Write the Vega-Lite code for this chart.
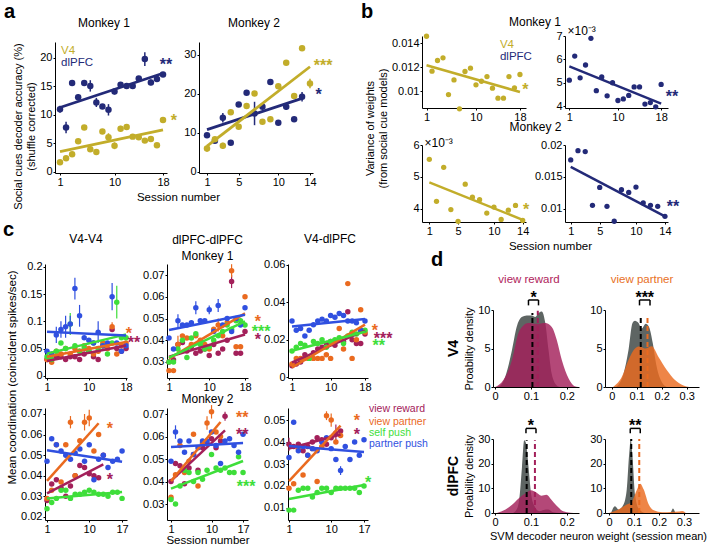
{
"$schema": "https://vega.github.io/schema/vega-lite/v6.json",
"background": "white",
"autosize": {"type": "none"},
"padding": {"left": 0, "top": 0, "right": 708, "bottom": 545},
"config": {
 "font": "Liberation Sans",
 "view": {"stroke": null},
 "axis": {"grid": false, "domainColor": "#000", "tickColor": "#000", "tickSize": 2, "labelColor": "#000", "labelFontSize": 11, "labelPadding": 1, "labelFlush": false, "titleColor": "#000", "titleFontSize": 11, "titleFontWeight": "normal", "titlePadding": 3, "format": ".4~f"},
 "title": {"fontSize": 12, "fontWeight": "normal", "color": "#000", "subtitleFontSize": 12, "subtitleColor": "#000", "subtitlePadding": 4}
},
"datasets": {
 "a1": [
  {"s":1,"v":11.0,"k":"dlPFC","err":0.6},{"s":2,"v":7.8,"k":"dlPFC","err":1.0},{"s":3,"v":15.6,"k":"dlPFC"},{"s":4,"v":13.1,"k":"dlPFC","err":0.5},{"s":5,"v":15.6,"k":"dlPFC"},{"s":6,"v":15.1,"k":"dlPFC","err":1.0},{"s":7,"v":12.2,"k":"dlPFC","err":0.8},{"s":8,"v":11.5,"k":"dlPFC"},{"s":9,"v":10.9,"k":"dlPFC","err":1.0},{"s":10,"v":14.1,"k":"dlPFC","err":0.5},{"s":11,"v":15.3,"k":"dlPFC"},{"s":12,"v":15.1,"k":"dlPFC"},{"s":13,"v":15.1,"k":"dlPFC","err":0.5},{"s":14,"v":16.4,"k":"dlPFC"},{"s":15,"v":19.8,"k":"dlPFC","err":1.2},{"s":16,"v":15.7,"k":"dlPFC","err":0.5},{"s":17,"v":16.3,"k":"dlPFC"},{"s":18,"v":17.1,"k":"dlPFC"},
  {"s":1,"v":1.7,"k":"V4"},{"s":2,"v":2.4,"k":"V4"},{"s":3,"v":3.1,"k":"V4"},{"s":4,"v":5.4,"k":"V4"},{"s":5,"v":7.8,"k":"V4"},{"s":6,"v":4.0,"k":"V4"},{"s":7,"v":3.5,"k":"V4"},{"s":8,"v":7.1,"k":"V4"},{"s":9,"v":6.1,"k":"V4","err":0.7},{"s":10,"v":4.6,"k":"V4","err":0.6},{"s":11,"v":7.6,"k":"V4","err":0.5},{"s":12,"v":7.9,"k":"V4"},{"s":13,"v":6.2,"k":"V4"},{"s":14,"v":6.1,"k":"V4"},{"s":15,"v":5.5,"k":"V4"},{"s":16,"v":5.8,"k":"V4"},{"s":17,"v":4.7,"k":"V4"},{"s":18,"v":9.1,"k":"V4"}
 ],
 "a1t": [{"s":18.5,"v":18.68,"t":"**","k":"dlPFC"},{"s":19.8,"v":8.86,"t":"*","k":"V4"}],
 "a1l": [{"s":1.17,"v":21.2,"t":"V4","k":"V4"},{"s":1.17,"v":19.1,"t":"dlPFC","k":"dlPFC"}],
 "a2": [
  {"s":1,"v":9.4,"k":"dlPFC"},{"s":2,"v":8.0,"k":"dlPFC"},{"s":3,"v":13.9,"k":"dlPFC","err":1.2},{"s":4,"v":7.5,"k":"dlPFC"},{"s":5,"v":17.3,"k":"dlPFC"},{"s":6,"v":20.3,"k":"dlPFC"},{"s":7,"v":15.0,"k":"dlPFC","err":3.0},{"s":8,"v":16.7,"k":"dlPFC"},{"s":9,"v":23.1,"k":"dlPFC"},{"s":10,"v":12.6,"k":"dlPFC"},{"s":11,"v":16.7,"k":"dlPFC","err":0.8},{"s":12,"v":13.5,"k":"dlPFC"},{"s":13,"v":19.3,"k":"dlPFC","err":1.2},
  {"s":1,"v":6.0,"k":"V4","err":0.8},{"s":2,"v":8.4,"k":"V4"},{"s":3,"v":6.7,"k":"V4","err":0.8},{"s":4,"v":15.3,"k":"V4"},{"s":5,"v":11.6,"k":"V4"},{"s":6,"v":16.9,"k":"V4"},{"s":7,"v":20.1,"k":"V4"},{"s":8,"v":12.9,"k":"V4"},{"s":9,"v":13.5,"k":"V4"},{"s":10,"v":22.0,"k":"V4"},{"s":11,"v":28.0,"k":"V4"},{"s":12,"v":19.5,"k":"V4"},{"s":13,"v":31.7,"k":"V4"},{"s":14,"v":22.7,"k":"V4","err":1.2}
 ],
 "a2t": [{"s":15.65,"v":27.05,"t":"***","k":"V4"},{"s":15.1,"v":19.65,"t":"*","k":"dlPFC"}],
 "b1": [
  {"s":1,"v":0.01458,"k":"V4"},{"s":2,"v":0.01167,"k":"V4"},{"s":3,"v":0.01256,"k":"V4"},{"s":4,"v":0.01278,"k":"V4"},{"s":5,"v":0.00972,"k":"V4"},{"s":6,"v":0.01094,"k":"V4"},{"s":7,"v":0.00853,"k":"V4"},{"s":8,"v":0.01164,"k":"V4"},{"s":9,"v":0.01192,"k":"V4"},{"s":10,"v":0.01053,"k":"V4"},{"s":11,"v":0.01083,"k":"V4"},{"s":12,"v":0.01122,"k":"V4"},{"s":13,"v":0.01025,"k":"V4"},{"s":14,"v":0.00942,"k":"V4"},{"s":15,"v":0.00942,"k":"V4"},{"s":16,"v":0.01122,"k":"V4"},{"s":17,"v":0.01028,"k":"V4"},{"s":18,"v":0.01139,"k":"V4"}
 ],
 "b1t": [{"s":19.0,"v":0.01006,"t":"*","k":"V4"}],
 "b1l": [{"s":14.36,"v":0.01385,"t":"V4","k":"V4"},{"s":14.36,"v":0.01285,"t":"dlPFC","k":"dlPFC"}],
 "b2": [
  {"s":1,"v":5.11,"k":"dlPFC"},{"s":2,"v":6.14,"k":"dlPFC"},{"s":3,"v":5.21,"k":"dlPFC"},{"s":4,"v":5.76,"k":"dlPFC"},{"s":5,"v":6.9,"k":"dlPFC"},{"s":6,"v":4.66,"k":"dlPFC"},{"s":7,"v":5.25,"k":"dlPFC"},{"s":8,"v":4.44,"k":"dlPFC"},{"s":9,"v":5.0,"k":"dlPFC"},{"s":10,"v":4.24,"k":"dlPFC"},{"s":11,"v":4.31,"k":"dlPFC"},{"s":12,"v":4.46,"k":"dlPFC"},{"s":13,"v":4.82,"k":"dlPFC"},{"s":14,"v":4.82,"k":"dlPFC"},{"s":15,"v":4.09,"k":"dlPFC"},{"s":16,"v":4.15,"k":"dlPFC"},{"s":17,"v":3.97,"k":"dlPFC"},{"s":18,"v":4.93,"k":"dlPFC"}
 ],
 "b2t": [{"s":20.0,"v":4.37,"t":"**","k":"dlPFC"}],
 "b3": [
  {"s":1,"v":5.55,"k":"V4"},{"s":2,"v":4.23,"k":"V4"},{"s":3,"v":5.3,"k":"V4"},{"s":4,"v":3.97,"k":"V4"},{"s":5,"v":3.6,"k":"V4"},{"s":6,"v":4.77,"k":"V4"},{"s":7,"v":4.36,"k":"V4"},{"s":8,"v":4.28,"k":"V4"},{"s":9,"v":3.86,"k":"V4"},{"s":10,"v":4.05,"k":"V4"},{"s":11,"v":3.66,"k":"V4"},{"s":12,"v":3.95,"k":"V4"},{"s":13,"v":4.1,"k":"V4"},{"s":14,"v":3.63,"k":"V4"}
 ],
 "b3t": [{"s":14.46,"v":3.97,"t":"*","k":"V4"}],
 "b4": [
  {"s":1,"v":0.01766,"k":"dlPFC"},{"s":2,"v":0.01911,"k":"dlPFC"},{"s":3,"v":0.01896,"k":"dlPFC"},{"s":4,"v":0.01052,"k":"dlPFC"},{"s":5,"v":0.01333,"k":"dlPFC"},{"s":6,"v":0.01036,"k":"dlPFC"},{"s":7,"v":0.00802,"k":"dlPFC"},{"s":8,"v":0.01297,"k":"dlPFC"},{"s":9,"v":0.01255,"k":"dlPFC"},{"s":10,"v":0.01339,"k":"dlPFC"},{"s":11,"v":0.01089,"k":"dlPFC"},{"s":12,"v":0.01052,"k":"dlPFC"},{"s":13,"v":0.01036,"k":"dlPFC"},{"s":14,"v":0.0088,"k":"dlPFC"}
 ],
 "b4t": [{"s":15.1,"v":0.0102,"t":"**","k":"dlPFC"}],
 "c11": [
  {"s":1,"v":0.03,"k":"vr"},{"s":2,"v":0.03,"k":"vr"},{"s":3,"v":0.035,"k":"vr"},{"s":4,"v":0.035,"k":"vr"},{"s":5,"v":0.03,"k":"vr"},{"s":6,"v":0.035,"k":"vr"},{"s":7,"v":0.035,"k":"vr"},{"s":8,"v":0.03,"k":"vr"},{"s":9,"v":0.04,"k":"vr"},{"s":10,"v":0.045,"k":"vr"},{"s":11,"v":0.035,"k":"vr"},{"s":12,"v":0.03,"k":"vr"},{"s":13,"v":0.055,"k":"vr"},{"s":14,"v":0.05,"k":"vr"},{"s":15,"v":0.085,"k":"vr"},{"s":16,"v":0.05,"k":"vr"},{"s":17,"v":0.045,"k":"vr"},{"s":18,"v":0.05,"k":"vr"},
  {"s":1,"v":0.03,"k":"vp"},{"s":2,"v":0.025,"k":"vp"},{"s":3,"v":0.045,"k":"vp"},{"s":4,"v":0.04,"k":"vp"},{"s":5,"v":0.05,"k":"vp"},{"s":6,"v":0.04,"k":"vp"},{"s":7,"v":0.05,"k":"vp"},{"s":8,"v":0.045,"k":"vp"},{"s":9,"v":0.055,"k":"vp"},{"s":10,"v":0.05,"k":"vp"},{"s":11,"v":0.04,"k":"vp"},{"s":12,"v":0.045,"k":"vp"},{"s":13,"v":0.06,"k":"vp"},{"s":14,"v":0.05,"k":"vp"},{"s":15,"v":0.09,"k":"vp","err":0.008},{"s":16,"v":0.04,"k":"vp"},{"s":17,"v":0.055,"k":"vp"},{"s":18,"v":0.06,"k":"vp"},
  {"s":1,"v":0.035,"k":"sp"},{"s":2,"v":0.03,"k":"sp"},{"s":3,"v":0.045,"k":"sp"},{"s":4,"v":0.06,"k":"sp"},{"s":5,"v":0.05,"k":"sp"},{"s":6,"v":0.095,"k":"sp","err":0.02},{"s":7,"v":0.055,"k":"sp"},{"s":8,"v":0.045,"k":"sp"},{"s":9,"v":0.05,"k":"sp"},{"s":10,"v":0.045,"k":"sp"},{"s":11,"v":0.06,"k":"sp"},{"s":12,"v":0.05,"k":"sp"},{"s":13,"v":0.055,"k":"sp"},{"s":14,"v":0.04,"k":"sp"},{"s":15,"v":0.06,"k":"sp"},{"s":16,"v":0.135,"k":"sp","err":0.03},{"s":17,"v":0.07,"k":"sp"},{"s":18,"v":0.07,"k":"sp"},
  {"s":1,"v":0.045,"k":"pp"},{"s":2,"v":0.04,"k":"pp"},{"s":3,"v":0.075,"k":"pp","err":0.015},{"s":4,"v":0.085,"k":"pp","err":0.015},{"s":5,"v":0.09,"k":"pp","err":0.02},{"s":6,"v":0.095,"k":"pp","err":0.015},{"s":7,"v":0.16,"k":"pp","err":0.02},{"s":8,"v":0.11,"k":"pp","err":0.02},{"s":9,"v":0.07,"k":"pp"},{"s":10,"v":0.065,"k":"pp"},{"s":11,"v":0.06,"k":"pp"},{"s":12,"v":0.08,"k":"pp","err":0.02},{"s":13,"v":0.055,"k":"pp"},{"s":14,"v":0.06,"k":"pp"},{"s":15,"v":0.145,"k":"pp","err":0.025},{"s":16,"v":0.06,"k":"pp"},{"s":17,"v":0.045,"k":"pp"},{"s":18,"v":0.055,"k":"pp"}
 ],
 "c11t": [{"s":18.6,"v":0.0758,"t":"*","k":"vp"},{"s":19.7,"v":0.0593,"t":"**","k":"vr"}],
 "c12": [
  {"s":1,"v":0.03,"k":"vr"},{"s":2,"v":0.031,"k":"vr"},{"s":3,"v":0.038,"k":"vr"},{"s":4,"v":0.039,"k":"vr"},{"s":5,"v":0.035,"k":"vr"},{"s":6,"v":0.037,"k":"vr"},{"s":7,"v":0.034,"k":"vr"},{"s":8,"v":0.035,"k":"vr"},{"s":9,"v":0.036,"k":"vr"},{"s":10,"v":0.033,"k":"vr"},{"s":11,"v":0.038,"k":"vr"},{"s":12,"v":0.034,"k":"vr"},{"s":13,"v":0.036,"k":"vr"},{"s":14,"v":0.04,"k":"vr"},{"s":15,"v":0.067,"k":"vr","err":0.003},{"s":16,"v":0.034,"k":"vr"},{"s":17,"v":0.034,"k":"vr"},{"s":18,"v":0.044,"k":"vr"},
  {"s":1,"v":0.026,"k":"vp"},{"s":2,"v":0.026,"k":"vp"},{"s":3,"v":0.038,"k":"vp","err":0.004},{"s":4,"v":0.042,"k":"vp"},{"s":5,"v":0.041,"k":"vp"},{"s":6,"v":0.038,"k":"vp"},{"s":7,"v":0.042,"k":"vp"},{"s":8,"v":0.04,"k":"vp"},{"s":9,"v":0.038,"k":"vp"},{"s":10,"v":0.036,"k":"vp"},{"s":11,"v":0.045,"k":"vp"},{"s":12,"v":0.047,"k":"vp","err":0.003},{"s":13,"v":0.042,"k":"vp"},{"s":14,"v":0.048,"k":"vp"},{"s":15,"v":0.072,"k":"vp","err":0.003},{"s":16,"v":0.037,"k":"vp"},{"s":17,"v":0.037,"k":"vp"},{"s":18,"v":0.06,"k":"vp"},
  {"s":1,"v":0.03,"k":"sp"},{"s":2,"v":0.03,"k":"sp"},{"s":3,"v":0.036,"k":"sp"},{"s":4,"v":0.04,"k":"sp"},{"s":5,"v":0.032,"k":"sp"},{"s":6,"v":0.041,"k":"sp"},{"s":7,"v":0.043,"k":"sp"},{"s":8,"v":0.038,"k":"sp"},{"s":9,"v":0.036,"k":"sp"},{"s":10,"v":0.037,"k":"sp"},{"s":11,"v":0.04,"k":"sp"},{"s":12,"v":0.042,"k":"sp"},{"s":13,"v":0.044,"k":"sp"},{"s":14,"v":0.047,"k":"sp"},{"s":15,"v":0.045,"k":"sp"},{"s":16,"v":0.049,"k":"sp"},{"s":17,"v":0.049,"k":"sp"},{"s":18,"v":0.047,"k":"sp"},
  {"s":1,"v":0.041,"k":"pp"},{"s":2,"v":0.036,"k":"pp"},{"s":3,"v":0.049,"k":"pp","err":0.003},{"s":4,"v":0.047,"k":"pp"},{"s":5,"v":0.047,"k":"pp"},{"s":6,"v":0.048,"k":"pp"},{"s":7,"v":0.055,"k":"pp","err":0.003},{"s":8,"v":0.049,"k":"pp"},{"s":9,"v":0.049,"k":"pp"},{"s":10,"v":0.054,"k":"pp","err":0.002},{"s":11,"v":0.044,"k":"pp"},{"s":12,"v":0.056,"k":"pp","err":0.003},{"s":13,"v":0.047,"k":"pp"},{"s":14,"v":0.05,"k":"pp"},{"s":15,"v":0.044,"k":"pp"},{"s":16,"v":0.05,"k":"pp"},{"s":17,"v":0.047,"k":"pp"},{"s":18,"v":0.055,"k":"pp"}
 ],
 "c12t": [{"s":20.9,"v":0.0486,"t":"*","k":"vp"},{"s":21.6,"v":0.0439,"t":"***","k":"sp"},{"s":20.9,"v":0.0399,"t":"*","k":"vr"}],
 "c13": [
  {"s":1,"v":0.006,"k":"vr"},{"s":2,"v":0.007,"k":"vr"},{"s":3,"v":0.008,"k":"vr"},{"s":4,"v":0.012,"k":"vr"},{"s":5,"v":0.01,"k":"vr"},{"s":6,"v":0.013,"k":"vr"},{"s":7,"v":0.015,"k":"vr"},{"s":8,"v":0.016,"k":"vr"},{"s":9,"v":0.018,"k":"vr"},{"s":10,"v":0.019,"k":"vr"},{"s":11,"v":0.017,"k":"vr"},{"s":12,"v":0.02,"k":"vr"},{"s":13,"v":0.019,"k":"vr"},{"s":14,"v":0.035,"k":"vr"},{"s":15,"v":0.02,"k":"vr"},{"s":16,"v":0.018,"k":"vr"},{"s":17,"v":0.018,"k":"vr"},{"s":18,"v":0.023,"k":"vr"},
  {"s":1,"v":0.007,"k":"vp"},{"s":2,"v":0.01,"k":"vp"},{"s":3,"v":0.01,"k":"vp"},{"s":4,"v":0.01,"k":"vp"},{"s":5,"v":0.01,"k":"vp"},{"s":6,"v":0.01,"k":"vp"},{"s":7,"v":0.01,"k":"vp"},{"s":8,"v":0.01,"k":"vp"},{"s":9,"v":0.012,"k":"vp"},{"s":10,"v":0.01,"k":"vp"},{"s":11,"v":0.019,"k":"vp"},{"s":12,"v":0.026,"k":"vp"},{"s":13,"v":0.015,"k":"vp"},{"s":14,"v":0.05,"k":"vp"},{"s":15,"v":0.01,"k":"vp"},{"s":16,"v":0.02,"k":"vp"},{"s":17,"v":0.036,"k":"vp"},{"s":18,"v":0.024,"k":"vp"},
  {"s":1,"v":0.014,"k":"sp"},{"s":2,"v":0.016,"k":"sp"},{"s":3,"v":0.018,"k":"sp"},{"s":4,"v":0.017,"k":"sp"},{"s":5,"v":0.01,"k":"sp"},{"s":6,"v":0.019,"k":"sp"},{"s":7,"v":0.018,"k":"sp"},{"s":8,"v":0.02,"k":"sp"},{"s":9,"v":0.016,"k":"sp"},{"s":10,"v":0.019,"k":"sp"},{"s":11,"v":0.02,"k":"sp"},{"s":12,"v":0.021,"k":"sp"},{"s":13,"v":0.018,"k":"sp"},{"s":14,"v":0.022,"k":"sp"},{"s":15,"v":0.024,"k":"sp"},{"s":16,"v":0.023,"k":"sp"},{"s":17,"v":0.025,"k":"sp"},{"s":18,"v":0.025,"k":"sp"},
  {"s":1,"v":0.03,"k":"pp"},{"s":2,"v":0.025,"k":"pp"},{"s":3,"v":0.026,"k":"pp"},{"s":4,"v":0.022,"k":"pp"},{"s":5,"v":0.025,"k":"pp"},{"s":6,"v":0.028,"k":"pp"},{"s":7,"v":0.03,"k":"pp"},{"s":8,"v":0.031,"k":"pp"},{"s":9,"v":0.03,"k":"pp"},{"s":10,"v":0.033,"k":"pp"},{"s":11,"v":0.032,"k":"pp"},{"s":12,"v":0.034,"k":"pp"},{"s":13,"v":0.033,"k":"pp"},{"s":14,"v":0.03,"k":"pp"},{"s":15,"v":0.03,"k":"pp"},{"s":16,"v":0.029,"k":"pp"},{"s":17,"v":0.025,"k":"pp"},{"s":18,"v":0.03,"k":"pp"}
 ],
 "c13t": [{"s":20.3,"v":0.0249,"t":"*","k":"vp"},{"s":22.2,"v":0.0206,"t":"***","k":"vr"},{"s":21.2,"v":0.0164,"t":"**","k":"sp"}],
 "c21": [
  {"s":1,"v":0.028,"k":"vr"},{"s":2,"v":0.036,"k":"vr"},{"s":3,"v":0.038,"k":"vr"},{"s":4,"v":0.034,"k":"vr"},{"s":5,"v":0.03,"k":"vr"},{"s":6,"v":0.035,"k":"vr"},{"s":7,"v":0.04,"k":"vr"},{"s":8,"v":0.045,"k":"vr"},{"s":9,"v":0.044,"k":"vr"},{"s":10,"v":0.041,"k":"vr"},{"s":11,"v":0.04,"k":"vr"},{"s":12,"v":0.039,"k":"vr"},{"s":13,"v":0.05,"k":"vr"},
  {"s":1,"v":0.029,"k":"vp"},{"s":2,"v":0.033,"k":"vp"},{"s":3,"v":0.055,"k":"vp"},{"s":4,"v":0.037,"k":"vp"},{"s":5,"v":0.055,"k":"vp"},{"s":6,"v":0.066,"k":"vp","err":0.003},{"s":7,"v":0.04,"k":"vp"},{"s":8,"v":0.057,"k":"vp"},{"s":9,"v":0.066,"k":"vp","err":0.004},{"s":10,"v":0.068,"k":"vp","err":0.004},{"s":11,"v":0.052,"k":"vp"},{"s":12,"v":0.06,"k":"vp"},
  {"s":1,"v":0.024,"k":"sp"},{"s":2,"v":0.027,"k":"sp"},{"s":3,"v":0.029,"k":"sp"},{"s":4,"v":0.033,"k":"sp"},{"s":5,"v":0.033,"k":"sp"},{"s":6,"v":0.029,"k":"sp"},{"s":7,"v":0.031,"k":"sp"},{"s":8,"v":0.031,"k":"sp"},{"s":9,"v":0.032,"k":"sp"},{"s":10,"v":0.033,"k":"sp"},{"s":11,"v":0.032,"k":"sp"},{"s":12,"v":0.031,"k":"sp"},{"s":13,"v":0.031,"k":"sp"},{"s":14,"v":0.03,"k":"sp"},{"s":15,"v":0.032,"k":"sp"},{"s":16,"v":0.032,"k":"sp"},{"s":17,"v":0.029,"k":"sp"},
  {"s":1,"v":0.047,"k":"pp"},{"s":2,"v":0.058,"k":"pp"},{"s":3,"v":0.055,"k":"pp"},{"s":4,"v":0.052,"k":"pp"},{"s":5,"v":0.05,"k":"pp"},{"s":6,"v":0.048,"k":"pp"},{"s":7,"v":0.051,"k":"pp"},{"s":8,"v":0.053,"k":"pp"},{"s":9,"v":0.047,"k":"pp"},{"s":10,"v":0.055,"k":"pp"},{"s":11,"v":0.038,"k":"pp"},{"s":12,"v":0.048,"k":"pp"},{"s":13,"v":0.05,"k":"pp"},{"s":14,"v":0.044,"k":"pp"},{"s":15,"v":0.047,"k":"pp"},{"s":16,"v":0.048,"k":"pp"},{"s":17,"v":0.052,"k":"pp"}
 ],
 "c21t": [{"s":14.4,"v":0.0629,"t":"*","k":"vp"},{"s":14.4,"v":0.0377,"t":"*","k":"vr"}],
 "c22": [
  {"s":1,"v":0.04,"k":"vr"},{"s":2,"v":0.048,"k":"vr"},{"s":3,"v":0.047,"k":"vr"},{"s":4,"v":0.039,"k":"vr"},{"s":5,"v":0.046,"k":"vr"},{"s":6,"v":0.052,"k":"vr"},{"s":7,"v":0.045,"k":"vr"},{"s":8,"v":0.055,"k":"vr"},{"s":9,"v":0.057,"k":"vr"},{"s":10,"v":0.059,"k":"vr"},{"s":11,"v":0.055,"k":"vr"},{"s":12,"v":0.058,"k":"vr"},{"s":13,"v":0.069,"k":"vr","err":0.002},
  {"s":1,"v":0.033,"k":"vp"},{"s":2,"v":0.043,"k":"vp"},{"s":3,"v":0.056,"k":"vp"},{"s":4,"v":0.044,"k":"vp"},{"s":5,"v":0.049,"k":"vp"},{"s":6,"v":0.061,"k":"vp"},{"s":7,"v":0.038,"k":"vp"},{"s":8,"v":0.057,"k":"vp"},{"s":9,"v":0.066,"k":"vp","err":0.003},{"s":10,"v":0.071,"k":"vp","err":0.003},{"s":11,"v":0.062,"k":"vp"},{"s":12,"v":0.06,"k":"vp"},
  {"s":1,"v":0.032,"k":"sp"},{"s":2,"v":0.03,"k":"sp"},{"s":3,"v":0.038,"k":"sp"},{"s":4,"v":0.045,"k":"sp"},{"s":5,"v":0.044,"k":"sp"},{"s":6,"v":0.04,"k":"sp"},{"s":7,"v":0.044,"k":"sp"},{"s":8,"v":0.041,"k":"sp"},{"s":9,"v":0.045,"k":"sp"},{"s":10,"v":0.052,"k":"sp"},{"s":11,"v":0.046,"k":"sp"},{"s":12,"v":0.045,"k":"sp"},{"s":13,"v":0.046,"k":"sp"},{"s":14,"v":0.044,"k":"sp"},{"s":15,"v":0.044,"k":"sp"},{"s":16,"v":0.051,"k":"sp"},{"s":17,"v":0.044,"k":"sp"},
  {"s":1,"v":0.049,"k":"pp"},{"s":2,"v":0.062,"k":"pp","err":0.003},{"s":3,"v":0.058,"k":"pp"},{"s":4,"v":0.053,"k":"pp"},{"s":5,"v":0.058,"k":"pp"},{"s":6,"v":0.052,"k":"pp"},{"s":7,"v":0.055,"k":"pp"},{"s":8,"v":0.058,"k":"pp"},{"s":9,"v":0.058,"k":"pp"},{"s":10,"v":0.062,"k":"pp"},{"s":11,"v":0.056,"k":"pp"},{"s":12,"v":0.048,"k":"pp"},{"s":13,"v":0.058,"k":"pp"},{"s":14,"v":0.059,"k":"pp"},{"s":15,"v":0.056,"k":"pp"},{"s":16,"v":0.053,"k":"pp"},{"s":17,"v":0.061,"k":"pp"}
 ],
 "c22t": [{"s":16.8,"v":0.0681,"t":"**","k":"vp"},{"s":16.8,"v":0.0605,"t":"**","k":"vr"},{"s":17.7,"v":0.0374,"t":"***","k":"sp"}],
 "c23": [
  {"s":1,"v":0.039,"k":"vr","err":0.003},{"s":2,"v":0.038,"k":"vr"},{"s":3,"v":0.039,"k":"vr"},{"s":4,"v":0.036,"k":"vr"},{"s":5,"v":0.038,"k":"vr"},{"s":6,"v":0.04,"k":"vr"},{"s":7,"v":0.042,"k":"vr"},{"s":8,"v":0.041,"k":"vr"},{"s":9,"v":0.039,"k":"vr"},{"s":10,"v":0.042,"k":"vr"},{"s":11,"v":0.044,"k":"vr","err":0.004},{"s":12,"v":0.045,"k":"vr"},
  {"s":1,"v":0.019,"k":"vp"},{"s":2,"v":0.021,"k":"vp"},{"s":3,"v":0.037,"k":"vp"},{"s":4,"v":0.025,"k":"vp"},{"s":5,"v":0.034,"k":"vp"},{"s":6,"v":0.037,"k":"vp"},{"s":7,"v":0.022,"k":"vp"},{"s":8,"v":0.038,"k":"vp"},{"s":9,"v":0.052,"k":"vp","err":0.002},{"s":10,"v":0.05,"k":"vp","err":0.003},{"s":11,"v":0.04,"k":"vp"},{"s":12,"v":0.043,"k":"vp"},
  {"s":1,"v":0.009,"k":"sp"},{"s":2,"v":0.009,"k":"sp"},{"s":3,"v":0.018,"k":"sp"},{"s":4,"v":0.019,"k":"sp"},{"s":5,"v":0.019,"k":"sp"},{"s":6,"v":0.015,"k":"sp"},{"s":7,"v":0.017,"k":"sp"},{"s":8,"v":0.019,"k":"sp"},{"s":9,"v":0.019,"k":"sp"},{"s":10,"v":0.017,"k":"sp"},{"s":11,"v":0.019,"k":"sp"},{"s":12,"v":0.019,"k":"sp"},{"s":13,"v":0.019,"k":"sp"},{"s":14,"v":0.019,"k":"sp"},{"s":15,"v":0.019,"k":"sp"},{"s":16,"v":0.017,"k":"sp"},{"s":17,"v":0.02,"k":"sp"},
  {"s":1,"v":0.033,"k":"pp"},{"s":2,"v":0.049,"k":"pp"},{"s":3,"v":0.036,"k":"pp"},{"s":4,"v":0.038,"k":"pp"},{"s":5,"v":0.034,"k":"pp"},{"s":6,"v":0.037,"k":"pp"},{"s":7,"v":0.036,"k":"pp"},{"s":8,"v":0.04,"k":"pp"},{"s":9,"v":0.042,"k":"pp"},{"s":10,"v":0.037,"k":"pp"},{"s":11,"v":0.032,"k":"pp"},{"s":12,"v":0.027,"k":"pp","err":0.002},{"s":13,"v":0.038,"k":"pp"},{"s":14,"v":0.032,"k":"pp"},{"s":15,"v":0.04,"k":"pp"},{"s":16,"v":0.034,"k":"pp"},{"s":17,"v":0.041,"k":"pp"}
 ],
 "c23t": [{"s":15.5,"v":0.0494,"t":"*","k":"vp"},{"s":15.5,"v":0.043,"t":"*","k":"vr"},{"s":17.85,"v":0.0212,"t":"*","k":"sp"}],
 "c23l": [{"s":18.06,"v":0.055,"t":"view reward","k":"vr"},{"s":18.06,"v":0.0491,"t":"view partner","k":"vp"},{"s":18.06,"v":0.0441,"t":"self push","k":"sp"},{"s":18.06,"v":0.0391,"t":"partner push","k":"pp"}],
 "d11a": [
  {"x":0.005,"y":0,"k":"gray"},{"x":0.015,"y":0.2,"k":"gray"},{"x":0.028,"y":1.3,"k":"gray"},{"x":0.047,"y":4.8,"k":"gray"},{"x":0.06,"y":7.8,"k":"gray"},{"x":0.074,"y":9.1,"k":"gray"},{"x":0.088,"y":9.3,"k":"gray"},{"x":0.102,"y":9.3,"k":"gray"},{"x":0.112,"y":9.1,"k":"gray"},{"x":0.121,"y":9.6,"k":"gray"},{"x":0.13,"y":9.8,"k":"gray"},{"x":0.14,"y":8.3,"k":"gray"},{"x":0.149,"y":4.8,"k":"gray"},{"x":0.158,"y":1.7,"k":"gray"},{"x":0.172,"y":0.2,"k":"gray"},{"x":0.18,"y":0,"k":"gray"},
  {"x":0.0,"y":0,"k":"vr"},{"x":0.023,"y":0.9,"k":"vr"},{"x":0.047,"y":3.5,"k":"vr"},{"x":0.065,"y":7.0,"k":"vr"},{"x":0.079,"y":8.0,"k":"vr"},{"x":0.093,"y":8.3,"k":"vr"},{"x":0.116,"y":8.2,"k":"vr"},{"x":0.14,"y":8.3,"k":"vr"},{"x":0.158,"y":7.8,"k":"vr"},{"x":0.172,"y":6.1,"k":"vr"},{"x":0.186,"y":3.5,"k":"vr"},{"x":0.205,"y":1.1,"k":"vr"},{"x":0.222,"y":0.1,"k":"vr"},{"x":0.232,"y":0,"k":"vr"}
 ],
 "d11m": [{"x":0.104,"y":0,"y2":9.6,"k":"blk"},{"x":0.119,"y":0,"y2":9.9,"k":"vr"}],
 "d11b": [{"x":0.093,"x2":0.121,"y":11.3,"y2":11.3},{"x":0.093,"x2":0.093,"y":10.6,"y2":11.3},{"x":0.121,"x2":0.121,"y":10.6,"y2":11.3}],
 "d11t": [{"x":0.107,"y":11.6,"t":"*"}],
 "d12a": [
  {"x":0.015,"y":0,"k":"gray"},{"x":0.027,"y":0.3,"k":"gray"},{"x":0.047,"y":1.7,"k":"gray"},{"x":0.067,"y":4.8,"k":"gray"},{"x":0.083,"y":8.3,"k":"gray"},{"x":0.093,"y":8.6,"k":"gray"},{"x":0.107,"y":8.3,"k":"gray"},{"x":0.12,"y":7.6,"k":"gray"},{"x":0.136,"y":8.2,"k":"gray"},{"x":0.149,"y":7.8,"k":"gray"},{"x":0.164,"y":5.7,"k":"gray"},{"x":0.18,"y":2.6,"k":"gray"},{"x":0.2,"y":0.65,"k":"gray"},{"x":0.22,"y":0,"k":"gray"},
  {"x":0.005,"y":0,"k":"vp"},{"x":0.04,"y":1.3,"k":"vp"},{"x":0.067,"y":3.5,"k":"vp"},{"x":0.093,"y":5.0,"k":"vp"},{"x":0.113,"y":5.3,"k":"vp"},{"x":0.133,"y":5.0,"k":"vp"},{"x":0.16,"y":5.3,"k":"vp"},{"x":0.187,"y":3.9,"k":"vp"},{"x":0.22,"y":2.2,"k":"vp"},{"x":0.253,"y":0.9,"k":"vp"},{"x":0.287,"y":0.2,"k":"vp"},{"x":0.31,"y":0,"k":"vp"}
 ],
 "d12m": [{"x":0.116,"y":0,"y2":9.3,"k":"blk"},{"x":0.143,"y":0,"y2":9.3,"k":"vp"}],
 "d12b": [{"x":0.111,"x2":0.153,"y":11.3,"y2":11.3},{"x":0.111,"x2":0.111,"y":10.6,"y2":11.3},{"x":0.153,"x2":0.153,"y":10.6,"y2":11.3}],
 "d12t": [{"x":0.132,"y":11.5,"t":"***"}],
 "d21a": [
  {"x":0.05,"y":0,"k":"gray"},{"x":0.062,"y":2,"k":"gray"},{"x":0.067,"y":5.4,"k":"gray"},{"x":0.075,"y":18.9,"k":"gray"},{"x":0.081,"y":29.5,"k":"gray"},{"x":0.086,"y":28.4,"k":"gray"},{"x":0.093,"y":18.9,"k":"gray"},{"x":0.1,"y":8.1,"k":"gray"},{"x":0.11,"y":2.7,"k":"gray"},{"x":0.124,"y":0.7,"k":"gray"},{"x":0.135,"y":1.2,"k":"gray"},{"x":0.148,"y":1.4,"k":"gray"},{"x":0.162,"y":0.3,"k":"gray"},{"x":0.18,"y":0,"k":"gray"},
  {"x":0.005,"y":0,"k":"vr"},{"x":0.029,"y":1.4,"k":"vr"},{"x":0.048,"y":3.4,"k":"vr"},{"x":0.067,"y":6.1,"k":"vr"},{"x":0.086,"y":8.1,"k":"vr"},{"x":0.1,"y":9.2,"k":"vr"},{"x":0.114,"y":8.4,"k":"vr"},{"x":0.129,"y":7.0,"k":"vr"},{"x":0.143,"y":7.4,"k":"vr"},{"x":0.157,"y":5.4,"k":"vr"},{"x":0.171,"y":3.0,"k":"vr"},{"x":0.19,"y":0.7,"k":"vr"},{"x":0.21,"y":0.1,"k":"vr"},{"x":0.228,"y":0,"k":"vr"}
 ],
 "d21m": [{"x":0.088,"y":0,"y2":29.5,"k":"blk"},{"x":0.111,"y":0,"y2":29.5,"k":"vr"}],
 "d21b": [{"x":0.086,"x2":0.114,"y":34.3,"y2":34.3},{"x":0.086,"x2":0.086,"y":32.3,"y2":34.3},{"x":0.114,"x2":0.114,"y":32.3,"y2":34.3}],
 "d21t": [{"x":0.1,"y":35.2,"t":"*"}],
 "d22a": [
  {"x":0.008,"y":0,"k":"gray"},{"x":0.024,"y":2.7,"k":"gray"},{"x":0.038,"y":1.4,"k":"gray"},{"x":0.058,"y":3.4,"k":"gray"},{"x":0.071,"y":9.5,"k":"gray"},{"x":0.081,"y":24.3,"k":"gray"},{"x":0.087,"y":30,"k":"gray"},{"x":0.094,"y":23,"k":"gray"},{"x":0.105,"y":6.8,"k":"gray"},{"x":0.121,"y":1.4,"k":"gray"},{"x":0.145,"y":0,"k":"gray"},{"x":0.245,"y":0,"k":"gray"},{"x":0.256,"y":1.8,"k":"gray"},{"x":0.265,"y":0,"k":"gray"},
  {"x":0.0,"y":0,"k":"vp"},{"x":0.038,"y":1.4,"k":"vp"},{"x":0.071,"y":3.4,"k":"vp"},{"x":0.092,"y":4.7,"k":"vp"},{"x":0.112,"y":9.5,"k":"vp"},{"x":0.125,"y":11.9,"k":"vp"},{"x":0.139,"y":9.5,"k":"vp"},{"x":0.159,"y":3.4,"k":"vp"},{"x":0.179,"y":1.1,"k":"vp"},{"x":0.213,"y":0.3,"k":"vp"},{"x":0.25,"y":0.4,"k":"vp"},{"x":0.28,"y":0.6,"k":"vp"},{"x":0.293,"y":0.8,"k":"vp"},{"x":0.307,"y":0,"k":"vp"}
 ],
 "d22m": [{"x":0.089,"y":0,"y2":30,"k":"blk"},{"x":0.121,"y":0,"y2":30,"k":"vp"}],
 "d22b": [{"x":0.085,"x2":0.125,"y":34.3,"y2":34.3},{"x":0.085,"x2":0.085,"y":32.3,"y2":34.3},{"x":0.125,"x2":0.125,"y":32.3,"y2":34.3}],
 "d22t": [{"x":0.105,"y":35.2,"t":"**"}]
},
"vconcat": [
 {"hconcat":[{"data":{"values":[]},"mark":"point","width":4,"height":1},{"vconcat":[{"data":{"values":[]},"mark":"point","width":1,"height":22},{"data":{"values":[]},"mark":"point","width":20,"height":1,"title":{"text":"a","anchor":"start","frame":"group","offset":0,"fontSize":20,"fontWeight":"bold"}}],"spacing":0,"bounds":"flush"}],"spacing":0,"bounds":"flush"},
 {"hconcat":[{"data":{"values":[]},"mark":"point","width":361,"height":1},{"vconcat":[{"data":{"values":[]},"mark":"point","width":1,"height":22},{"data":{"values":[]},"mark":"point","width":20,"height":1,"title":{"text":"b","anchor":"start","frame":"group","offset":0,"fontSize":20,"fontWeight":"bold"}}],"spacing":0,"bounds":"flush"}],"spacing":0,"bounds":"flush"},
 {"hconcat":[{"data":{"values":[]},"mark":"point","width":3,"height":1},{"vconcat":[{"data":{"values":[]},"mark":"point","width":1,"height":240},{"data":{"values":[]},"mark":"point","width":20,"height":1,"title":{"text":"c","anchor":"start","frame":"group","offset":0,"fontSize":20,"fontWeight":"bold"}}],"spacing":0,"bounds":"flush"}],"spacing":0,"bounds":"flush"},
 {"hconcat":[{"data":{"values":[]},"mark":"point","width":431,"height":1},{"vconcat":[{"data":{"values":[]},"mark":"point","width":1,"height":270},{"data":{"values":[]},"mark":"point","width":20,"height":1,"title":{"text":"d","anchor":"start","frame":"group","offset":0,"fontSize":20,"fontWeight":"bold"}}],"spacing":0,"bounds":"flush"}],"spacing":0,"bounds":"flush"},
 {"hconcat":[{"data":{"values":[]},"mark":"point","width":489,"height":1},{"vconcat":[{"data":{"values":[]},"mark":"point","width":1,"height":285},{"data":{"values":[]},"mark":"point","width":80,"height":1,"title":{"text":"view reward","anchor":"middle","frame":"group","offset":0,"fontSize":11.5,"color":"#b0245c"}}],"spacing":0,"bounds":"flush"}],"spacing":0,"bounds":"flush"},
 {"hconcat":[{"data":{"values":[]},"mark":"point","width":602,"height":1},{"vconcat":[{"data":{"values":[]},"mark":"point","width":1,"height":285},{"data":{"values":[]},"mark":"point","width":80,"height":1,"title":{"text":"view partner","anchor":"middle","frame":"group","offset":0,"fontSize":11.5,"color":"#e8701f"}}],"spacing":0,"bounds":"flush"}],"spacing":0,"bounds":"flush"},
 {"hconcat":[{"data":{"values":[]},"mark":"point","width":55,"height":1},{"vconcat":[{"data":{"values":[]},"mark":"point","width":1,"height":42},
  {"hconcat":[
   {"width":112,"height":131,
    "title":{"text":"Monkey 1","frame":"group","dx":-7,"offset":12},
    "encoding":{
     "x":{"field":"s","type":"quantitative","scale":{"domain":[0.175,18.66],"nice":false,"zero":false},"axis":{"values":[1,10,18],"title":"Session number","titleX":123,"titlePadding":4,"titleFontSize":11.5}},
     "y":{"field":"v","type":"quantitative","scale":{"domain":[-0.18,22.8],"nice":false,"zero":false},"axis":{"values":[0,5,10,15,20],"title":["Social cues decoder accuracy (%)","(shuffle corrected)"],"titleY":84}},
     "color":{"field":"k","type":"nominal","scale":{"domain":["V4","dlPFC","vr","vp","sp","pp","gray","blk"],"range":["#c2ad2a","#232a78","#a3205a","#ea6a1f","#3ede3a","#3050e0","#5e6563","#000000"]},"legend":null}
    },
    "layer":[
     {"data":{"name":"a1"},"transform":[{"filter":"isValid(datum.err)"}],"mark":{"type":"errorbar","thickness":1.5},"encoding":{"yError":{"field":"err"}}},
     {"data":{"name":"a1"},"mark":{"type":"circle","size":42,"opacity":1}},
     {"data":{"name":"a1"},"transform":[{"regression":"v","on":"s","groupby":["k"]}],"mark":{"type":"line","strokeWidth":2.8}},
     {"data":{"name":"a1t"},"mark":{"type":"text","fontSize":16,"fontWeight":"bold","baseline":"middle"},"encoding":{"text":{"field":"t"}}},
     {"data":{"name":"a1l"},"mark":{"type":"text","fontSize":11.5,"align":"left","baseline":"middle"},"encoding":{"text":{"field":"t"}}}
    ]},
   {"width":114,"height":131,
    "title":{"text":"Monkey 2","frame":"group","dx":-2,"offset":12},
    "encoding":{
     "x":{"field":"s","type":"quantitative","scale":{"domain":[-0.01,14.38],"nice":false,"zero":false},"axis":{"values":[1,5,10,14],"title":null}},
     "y":{"field":"v","type":"quantitative","scale":{"domain":[-0.26,33.33],"nice":false,"zero":false},"axis":{"values":[0,10,20,30],"title":null}},
     "color":{"field":"k","type":"nominal","scale":{"domain":["V4","dlPFC","vr","vp","sp","pp","gray","blk"],"range":["#c2ad2a","#232a78","#a3205a","#ea6a1f","#3ede3a","#3050e0","#5e6563","#000000"]},"legend":null}
    },
    "layer":[
     {"data":{"name":"a2"},"transform":[{"filter":"isValid(datum.err)"}],"mark":{"type":"errorbar","thickness":1.5},"encoding":{"yError":{"field":"err"}}},
     {"data":{"name":"a2"},"mark":{"type":"circle","size":42,"opacity":1}},
     {"data":{"name":"a2"},"transform":[{"regression":"v","on":"s","groupby":["k"]}],"mark":{"type":"line","strokeWidth":2.8}},
     {"data":{"name":"a2t"},"mark":{"type":"text","fontSize":16,"fontWeight":"bold","baseline":"middle"},"encoding":{"text":{"field":"t"}}}
    ]}
  ],"spacing":32,"bounds":"flush"}
 ],"spacing":0,"bounds":"flush"}],"spacing":0,"bounds":"flush"},
 {"hconcat":[{"data":{"values":[]},"mark":"point","width":422,"height":1},{"vconcat":[{"data":{"values":[]},"mark":"point","width":1,"height":36},
  {"concat":[
   {"width":104,"height":72,
    "title":{"text":"Monkey 1","frame":"group","dx":61,"offset":5},
    "encoding":{
     "x":{"field":"s","type":"quantitative","scale":{"domain":[0.18,19.1],"nice":false,"zero":false},"axis":{"values":[1,10,18],"title":null}},
     "y":{"field":"v","type":"quantitative","scale":{"domain":[0.0086,0.0146],"nice":false,"zero":false},"axis":{"values":[0.01,0.012,0.014],"title":["Variance of weights","(from social cue models)"],"titleY":92}},
     "color":{"field":"k","type":"nominal","scale":{"domain":["V4","dlPFC","vr","vp","sp","pp","gray","blk"],"range":["#c2ad2a","#232a78","#a3205a","#ea6a1f","#3ede3a","#3050e0","#5e6563","#000000"]},"legend":null}
    },
    "layer":[
     {"data":{"name":"b1"},"mark":{"type":"circle","size":28,"opacity":1}},
     {"data":{"name":"b1"},"transform":[{"regression":"v","on":"s","groupby":["k"]}],"mark":{"type":"line","strokeWidth":2.5}},
     {"data":{"name":"b1t"},"mark":{"type":"text","fontSize":16,"fontWeight":"bold","baseline":"middle"},"encoding":{"text":{"field":"t"}}},
     {"data":{"name":"b1l"},"mark":{"type":"text","fontSize":11.5,"align":"left","baseline":"middle"},"encoding":{"text":{"field":"t"}}}
    ]},
   {"width":103,"height":72,
    "encoding":{
     "x":{"field":"s","type":"quantitative","scale":{"domain":[0.2,19.27],"nice":false,"zero":false},"axis":{"values":[1,10,18],"title":null}},
     "y":{"field":"v","type":"quantitative","scale":{"domain":[3.92,7.0],"nice":false,"zero":false},"axis":{"values":[4,5,6,7],"title":"×10⁻³","titleAngle":0,"titleAlign":"left","titleBaseline":"alphabetic","titleX":2,"titleY":-2,"titleFontSize":12}},
     "color":{"field":"k","type":"nominal","scale":{"domain":["V4","dlPFC","vr","vp","sp","pp","gray","blk"],"range":["#c2ad2a","#232a78","#a3205a","#ea6a1f","#3ede3a","#3050e0","#5e6563","#000000"]},"legend":null}
    },
    "layer":[
     {"data":{"name":"b2"},"mark":{"type":"circle","size":28,"opacity":1}},
     {"data":{"name":"b2"},"transform":[{"regression":"v","on":"s","groupby":["k"]}],"mark":{"type":"line","strokeWidth":2.5}},
     {"data":{"name":"b2t"},"mark":{"type":"text","fontSize":16,"fontWeight":"bold","baseline":"middle"},"encoding":{"text":{"field":"t"}}}
    ]},
   {"width":104,"height":77,
    "encoding":{
     "x":{"field":"s","type":"quantitative","scale":{"domain":[-0.02,14.46],"nice":false,"zero":false},"axis":{"values":[1,5,10,14],"title":"Session number","titleX":128,"titlePadding":4,"titleFontSize":11.5}},
     "y":{"field":"v","type":"quantitative","scale":{"domain":[3.58,6.0],"nice":false,"zero":false},"axis":{"values":[4,5,6],"title":"×10⁻³","titleAngle":0,"titleAlign":"left","titleBaseline":"alphabetic","titleX":2,"titleY":1,"titleFontSize":12}},
     "color":{"field":"k","type":"nominal","scale":{"domain":["V4","dlPFC","vr","vp","sp","pp","gray","blk"],"range":["#c2ad2a","#232a78","#a3205a","#ea6a1f","#3ede3a","#3050e0","#5e6563","#000000"]},"legend":null}
    },
    "layer":[
     {"data":{"name":"b3"},"mark":{"type":"circle","size":28,"opacity":1}},
     {"data":{"name":"b3"},"transform":[{"regression":"v","on":"s","groupby":["k"]}],"mark":{"type":"line","strokeWidth":2.5}},
     {"data":{"name":"b3t"},"mark":{"type":"text","fontSize":16,"fontWeight":"bold","baseline":"middle"},"encoding":{"text":{"field":"t"}}}
    ]},
   {"width":103,"height":77,
    "title":{"text":"Monkey 2","frame":"group","dx":-81,"offset":5},
    "encoding":{
     "x":{"field":"s","type":"quantitative","scale":{"domain":[0.21,14.42],"nice":false,"zero":false},"axis":{"values":[1,5,10,14],"title":null}},
     "y":{"field":"v","type":"quantitative","scale":{"domain":[0.0079,0.02],"nice":false,"zero":false},"axis":{"values":[0.01,0.015,0.02],"title":null}},
     "color":{"field":"k","type":"nominal","scale":{"domain":["V4","dlPFC","vr","vp","sp","pp","gray","blk"],"range":["#c2ad2a","#232a78","#a3205a","#ea6a1f","#3ede3a","#3050e0","#5e6563","#000000"]},"legend":null}
    },
    "layer":[
     {"data":{"name":"b4"},"mark":{"type":"circle","size":28,"opacity":1}},
     {"data":{"name":"b4"},"transform":[{"regression":"v","on":"s","groupby":["k"]}],"mark":{"type":"line","strokeWidth":2.5}},
     {"data":{"name":"b4t"},"mark":{"type":"text","fontSize":16,"fontWeight":"bold","baseline":"middle"},"encoding":{"text":{"field":"t"}}}
    ]}
  ],"columns":2,"spacing":{"row":37,"column":39},"bounds":"flush"}
 ],"spacing":0,"bounds":"flush"}],"spacing":0,"bounds":"flush"},
 {"hconcat":[{"data":{"values":[]},"mark":"point","width":45,"height":1},{"vconcat":[{"data":{"values":[]},"mark":"point","width":1,"height":264},
  {"concat":[
   {"width":82,"height":114,
    "title":{"text":"V4-V4","frame":"group","offset":15},
    "encoding":{
     "x":{"field":"s","type":"quantitative","scale":{"domain":[0.57,18.2],"nice":false,"zero":false},"axis":{"values":[1,10,18],"title":null}},
     "y":{"field":"v","type":"quantitative","scale":{"domain":[-0.004,0.205],"nice":false,"zero":false},"axis":{"values":[0,0.05,0.1,0.15,0.2],"title":"Mean coordination (coincident spikes/sec)","titleY":113,"titleFontSize":11.5}},
     "color":{"field":"k","type":"nominal","scale":{"domain":["V4","dlPFC","vr","vp","sp","pp","gray","blk"],"range":["#c2ad2a","#232a78","#a3205a","#ea6a1f","#3ede3a","#3050e0","#5e6563","#000000"]},"legend":null}
    },
    "layer":[
     {"data":{"name":"c11"},"transform":[{"filter":"isValid(datum.err)"}],"mark":{"type":"errorbar","thickness":1.2},"encoding":{"yError":{"field":"err"}}},
     {"data":{"name":"c11"},"mark":{"type":"circle","size":30,"opacity":1}},
     {"data":{"name":"c11"},"transform":[{"regression":"v","on":"s","groupby":["k"]}],"mark":{"type":"line","strokeWidth":2.5}},
     {"data":{"name":"c11t"},"mark":{"type":"text","fontSize":16,"fontWeight":"bold","baseline":"middle"},"encoding":{"text":{"field":"t"}}}
    ]},
   {"width":81,"height":114,
    "title":{"text":"dlPFC-dlPFC","subtitle":"Monkey 1","frame":"group","offset":1},
    "encoding":{
     "x":{"field":"s","type":"quantitative","scale":{"domain":[0.55,18.67],"nice":false,"zero":false},"axis":{"values":[1,10,18],"title":null}},
     "y":{"field":"v","type":"quantitative","scale":{"domain":[0.0226,0.0751],"nice":false,"zero":false},"axis":{"values":[0.03,0.04,0.05,0.06,0.07],"title":null}},
     "color":{"field":"k","type":"nominal","scale":{"domain":["V4","dlPFC","vr","vp","sp","pp","gray","blk"],"range":["#c2ad2a","#232a78","#a3205a","#ea6a1f","#3ede3a","#3050e0","#5e6563","#000000"]},"legend":null}
    },
    "layer":[
     {"data":{"name":"c12"},"transform":[{"filter":"isValid(datum.err)"}],"mark":{"type":"errorbar","thickness":1.2},"encoding":{"yError":{"field":"err"}}},
     {"data":{"name":"c12"},"mark":{"type":"circle","size":30,"opacity":1}},
     {"data":{"name":"c12"},"transform":[{"regression":"v","on":"s","groupby":["k"]}],"mark":{"type":"line","strokeWidth":2.5}},
     {"data":{"name":"c12t"},"mark":{"type":"text","fontSize":16,"fontWeight":"bold","baseline":"middle"},"encoding":{"text":{"field":"t"}}}
    ]},
   {"width":80,"height":114,
    "title":{"text":"V4-dlPFC","frame":"group","dx":2,"offset":13},
    "encoding":{
     "x":{"field":"s","type":"quantitative","scale":{"domain":[0.07,18.7],"nice":false,"zero":false},"axis":{"values":[1,10,18],"title":null}},
     "y":{"field":"v","type":"quantitative","scale":{"domain":[-0.0005,0.0605],"nice":false,"zero":false},"axis":{"values":[0,0.02,0.04,0.06],"title":null}},
     "color":{"field":"k","type":"nominal","scale":{"domain":["V4","dlPFC","vr","vp","sp","pp","gray","blk"],"range":["#c2ad2a","#232a78","#a3205a","#ea6a1f","#3ede3a","#3050e0","#5e6563","#000000"]},"legend":null}
    },
    "layer":[
     {"data":{"name":"c13"},"mark":{"type":"circle","size":30,"opacity":1}},
     {"data":{"name":"c13"},"transform":[{"regression":"v","on":"s","groupby":["k"]}],"mark":{"type":"line","strokeWidth":2.5}},
     {"data":{"name":"c13t"},"mark":{"type":"text","fontSize":16,"fontWeight":"bold","baseline":"middle"},"encoding":{"text":{"field":"t"}}}
    ]},
   {"width":82,"height":112,
    "encoding":{
     "x":{"field":"s","type":"quantitative","scale":{"domain":[0.57,18.05],"nice":false,"zero":false},"axis":{"values":[1,10,17],"title":null}},
     "y":{"field":"v","type":"quantitative","scale":{"domain":[0.0185,0.0729],"nice":false,"zero":false},"axis":{"values":[0.02,0.03,0.04,0.05,0.06,0.07],"title":null}},
     "color":{"field":"k","type":"nominal","scale":{"domain":["V4","dlPFC","vr","vp","sp","pp","gray","blk"],"range":["#c2ad2a","#232a78","#a3205a","#ea6a1f","#3ede3a","#3050e0","#5e6563","#000000"]},"legend":null}
    },
    "layer":[
     {"data":{"name":"c21"},"transform":[{"filter":"isValid(datum.err)"}],"mark":{"type":"errorbar","thickness":1.2},"encoding":{"yError":{"field":"err"}}},
     {"data":{"name":"c21"},"mark":{"type":"circle","size":30,"opacity":1}},
     {"data":{"name":"c21"},"transform":[{"regression":"v","on":"s","groupby":["k"]}],"mark":{"type":"line","strokeWidth":2.5}},
     {"data":{"name":"c21t"},"mark":{"type":"text","fontSize":16,"fontWeight":"bold","baseline":"middle"},"encoding":{"text":{"field":"t"}}}
    ]},
   {"width":81,"height":112,
    "title":{"text":"Monkey 2","frame":"group","offset":-2},
    "encoding":{
     "x":{"field":"s","type":"quantitative","scale":{"domain":[0.11,18.1],"nice":false,"zero":false},"axis":{"values":[1,10,17],"title":"Session number","titlePadding":0,"titleFontSize":11.5}},
     "y":{"field":"v","type":"quantitative","scale":{"domain":[0.0229,0.0727],"nice":false,"zero":false},"axis":{"values":[0.03,0.04,0.05,0.06,0.07],"title":null}},
     "color":{"field":"k","type":"nominal","scale":{"domain":["V4","dlPFC","vr","vp","sp","pp","gray","blk"],"range":["#c2ad2a","#232a78","#a3205a","#ea6a1f","#3ede3a","#3050e0","#5e6563","#000000"]},"legend":null}
    },
    "layer":[
     {"data":{"name":"c22"},"transform":[{"filter":"isValid(datum.err)"}],"mark":{"type":"errorbar","thickness":1.2},"encoding":{"yError":{"field":"err"}}},
     {"data":{"name":"c22"},"mark":{"type":"circle","size":30,"opacity":1}},
     {"data":{"name":"c22"},"transform":[{"regression":"v","on":"s","groupby":["k"]}],"mark":{"type":"line","strokeWidth":2.5}},
     {"data":{"name":"c22t"},"mark":{"type":"text","fontSize":16,"fontWeight":"bold","baseline":"middle"},"encoding":{"text":{"field":"t"}}}
    ]},
   {"width":80,"height":112,
    "encoding":{
     "x":{"field":"s","type":"quantitative","scale":{"domain":[0.79,17.85],"nice":false,"zero":false},"axis":{"values":[1,10,17],"title":null}},
     "y":{"field":"v","type":"quantitative","scale":{"domain":[0.0045,0.0555],"nice":false,"zero":false},"axis":{"values":[0.01,0.02,0.03,0.04,0.05],"title":null}},
     "color":{"field":"k","type":"nominal","scale":{"domain":["V4","dlPFC","vr","vp","sp","pp","gray","blk"],"range":["#c2ad2a","#232a78","#a3205a","#ea6a1f","#3ede3a","#3050e0","#5e6563","#000000"]},"legend":null}
    },
    "layer":[
     {"data":{"name":"c23"},"transform":[{"filter":"isValid(datum.err)"}],"mark":{"type":"errorbar","thickness":1.2},"encoding":{"yError":{"field":"err"}}},
     {"data":{"name":"c23"},"mark":{"type":"circle","size":30,"opacity":1}},
     {"data":{"name":"c23"},"transform":[{"regression":"v","on":"s","groupby":["k"]}],"mark":{"type":"line","strokeWidth":2.5}},
     {"data":{"name":"c23t"},"mark":{"type":"text","fontSize":16,"fontWeight":"bold","baseline":"middle"},"encoding":{"text":{"field":"t"}}},
     {"data":{"name":"c23l"},"mark":{"type":"text","fontSize":10.5,"align":"left","baseline":"middle"},"encoding":{"text":{"field":"t"}}}
    ]}
  ],"columns":3,"spacing":{"row":30,"column":40},"bounds":"flush"}
 ],"spacing":0,"bounds":"flush"}],"spacing":0,"bounds":"flush"},
 {"hconcat":[{"data":{"values":[]},"mark":"point","width":493,"height":1},{"vconcat":[{"data":{"values":[]},"mark":"point","width":1,"height":310},
  {"concat":[
   {"width":86,"height":77,
    "title":{"text":"V4","orient":"left","frame":"group","offset":3,"fontSize":14,"fontWeight":"bold"},
    "encoding":{
     "x":{"field":"x","type":"quantitative","scale":{"domain":[-0.006,0.234],"nice":false,"zero":false},"axis":{"values":[0,0.1,0.2],"title":null}},
     "y":{"field":"y","type":"quantitative","stack":null,"scale":{"domain":[0,10],"nice":false,"zero":false},"axis":{"values":[0,5,10],"title":"Proability density"}},
     "color":{"field":"k","type":"nominal","scale":{"domain":["V4","dlPFC","vr","vp","sp","pp","gray","blk"],"range":["#c2ad2a","#232a78","#a3205a","#ea6a1f","#3ede3a","#3050e0","#5e6563","#000000"]},"legend":null}
    },
    "layer":[
     {"data":{"name":"d11a"},"transform":[{"filter":"datum.k == 'gray'"}],"mark":{"type":"area","interpolate":"monotone","opacity":1}},
     {"data":{"name":"d11a"},"transform":[{"filter":"datum.k != 'gray'"}],"mark":{"type":"area","interpolate":"monotone","opacity":0.82}},
     {"data":{"name":"d11m"},"mark":{"type":"rule","strokeDash":[5,3],"strokeWidth":2},"encoding":{"y2":{"field":"y2"}}},
     {"data":{"name":"d11b"},"mark":{"type":"rule","strokeWidth":1.5},"encoding":{"x2":{"field":"x2"},"y2":{"field":"y2"},"color":{"value":"#000"}}},
     {"data":{"name":"d11t"},"mark":{"type":"text","fontSize":16,"fontWeight":"bold","baseline":"middle"},"encoding":{"text":{"field":"t"},"color":{"value":"#000"}}}
    ]},
   {"width":94,"height":77,
    "encoding":{
     "x":{"field":"x","type":"quantitative","scale":{"domain":[-0.027,0.349],"nice":false,"zero":false},"axis":{"values":[0,0.1,0.2,0.3],"title":null}},
     "y":{"field":"y","type":"quantitative","stack":null,"scale":{"domain":[0,10],"nice":false,"zero":false},"axis":{"values":[0,5,10],"title":null}},
     "color":{"field":"k","type":"nominal","scale":{"domain":["V4","dlPFC","vr","vp","sp","pp","gray","blk"],"range":["#c2ad2a","#232a78","#a3205a","#ea6a1f","#3ede3a","#3050e0","#5e6563","#000000"]},"legend":null}
    },
    "layer":[
     {"data":{"name":"d12a"},"transform":[{"filter":"datum.k == 'gray'"}],"mark":{"type":"area","interpolate":"monotone","opacity":1}},
     {"data":{"name":"d12a"},"transform":[{"filter":"datum.k != 'gray'"}],"mark":{"type":"area","interpolate":"monotone","opacity":0.82}},
     {"data":{"name":"d12m"},"mark":{"type":"rule","strokeDash":[5,3],"strokeWidth":2},"encoding":{"y2":{"field":"y2"}}},
     {"data":{"name":"d12b"},"mark":{"type":"rule","strokeWidth":1.5},"encoding":{"x2":{"field":"x2"},"y2":{"field":"y2"},"color":{"value":"#000"}}},
     {"data":{"name":"d12t"},"mark":{"type":"text","fontSize":16,"fontWeight":"bold","baseline":"middle"},"encoding":{"text":{"field":"t"},"color":{"value":"#000"}}}
    ]},
   {"width":86,"height":74,
    "title":{"text":"dlPFC","orient":"left","frame":"group","offset":3,"fontSize":14,"fontWeight":"bold"},
    "encoding":{
     "x":{"field":"x","type":"quantitative","scale":{"domain":[-0.006,0.234],"nice":false,"zero":false},"axis":{"values":[0,0.1,0.2],"title":"SVM decoder neuron weight (session mean)","titleX":105,"titlePadding":3}},
     "y":{"field":"y","type":"quantitative","stack":null,"scale":{"domain":[0,30],"nice":false,"zero":false},"axis":{"values":[0,10,20,30],"title":"Proability density"}},
     "color":{"field":"k","type":"nominal","scale":{"domain":["V4","dlPFC","vr","vp","sp","pp","gray","blk"],"range":["#c2ad2a","#232a78","#a3205a","#ea6a1f","#3ede3a","#3050e0","#5e6563","#000000"]},"legend":null}
    },
    "layer":[
     {"data":{"name":"d21a"},"transform":[{"filter":"datum.k == 'gray'"}],"mark":{"type":"area","interpolate":"monotone","opacity":1}},
     {"data":{"name":"d21a"},"transform":[{"filter":"datum.k != 'gray'"}],"mark":{"type":"area","interpolate":"monotone","opacity":0.82}},
     {"data":{"name":"d21m"},"mark":{"type":"rule","strokeDash":[5,3],"strokeWidth":2},"encoding":{"y2":{"field":"y2"}}},
     {"data":{"name":"d21b"},"mark":{"type":"rule","strokeWidth":1.5},"encoding":{"x2":{"field":"x2"},"y2":{"field":"y2"},"color":{"value":"#000"}}},
     {"data":{"name":"d21t"},"mark":{"type":"text","fontSize":16,"fontWeight":"bold","baseline":"middle"},"encoding":{"text":{"field":"t"},"color":{"value":"#000"}}}
    ]},
   {"width":94,"height":74,
    "encoding":{
     "x":{"field":"x","type":"quantitative","scale":{"domain":[-0.016,0.36],"nice":false,"zero":false},"axis":{"values":[0,0.1,0.2,0.3],"title":null}},
     "y":{"field":"y","type":"quantitative","stack":null,"scale":{"domain":[0,30],"nice":false,"zero":false},"axis":{"values":[0,10,20,30],"title":null}},
     "color":{"field":"k","type":"nominal","scale":{"domain":["V4","dlPFC","vr","vp","sp","pp","gray","blk"],"range":["#c2ad2a","#232a78","#a3205a","#ea6a1f","#3ede3a","#3050e0","#5e6563","#000000"]},"legend":null}
    },
    "layer":[
     {"data":{"name":"d22a"},"transform":[{"filter":"datum.k == 'gray'"}],"mark":{"type":"area","interpolate":"monotone","opacity":1}},
     {"data":{"name":"d22a"},"transform":[{"filter":"datum.k != 'gray'"}],"mark":{"type":"area","interpolate":"monotone","opacity":0.82}},
     {"data":{"name":"d22m"},"mark":{"type":"rule","strokeDash":[5,3],"strokeWidth":2},"encoding":{"y2":{"field":"y2"}}},
     {"data":{"name":"d22b"},"mark":{"type":"rule","strokeWidth":1.5},"encoding":{"x2":{"field":"x2"},"y2":{"field":"y2"},"color":{"value":"#000"}}},
     {"data":{"name":"d22t"},"mark":{"type":"text","fontSize":16,"fontWeight":"bold","baseline":"middle"},"encoding":{"text":{"field":"t"},"color":{"value":"#000"}}}
    ]}
  ],"columns":2,"spacing":{"row":52,"column":26},"bounds":"flush"}
 ],"spacing":0,"bounds":"flush"}],"spacing":0,"bounds":"flush"}
],
"spacing": 0,
"bounds": "flush"
}
